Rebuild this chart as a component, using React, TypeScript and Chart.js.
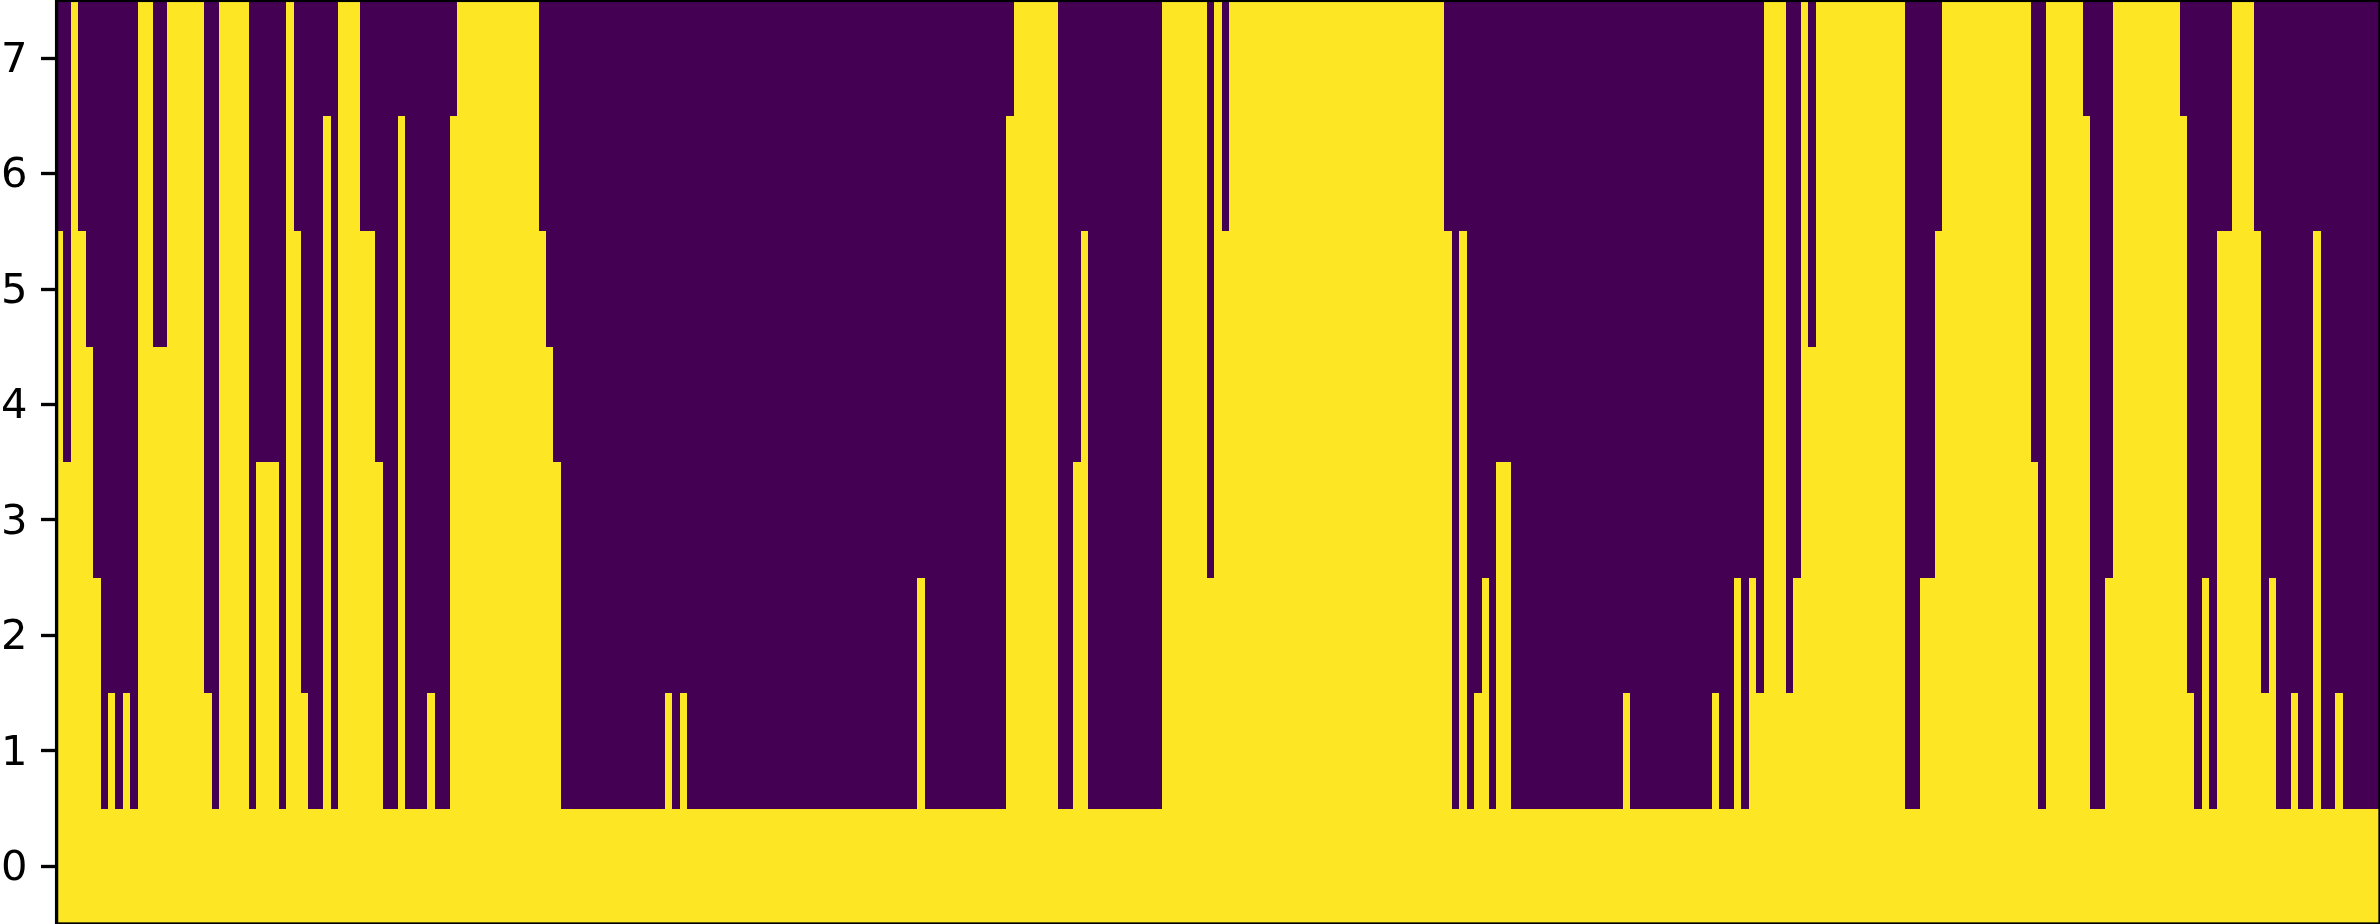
import React, { useEffect, useRef } from "react";
import { Chart, registerables } from "chart.js";

Chart.register(...registerables);

const levels: number[] = [
  5.5, 3.5, 7.5, 5.5, 4.5, 2.5, 0.5, 1.5, 0.5, 1.5, 0.5, 7.5, 7.5, 4.5, 4.5, 7.5, 7.5, 7.5, 7.5, 7.5,
  1.5, 0.5, 7.5, 7.5, 7.5, 7.5, 0.5, 3.5, 3.5, 3.5, 0.5, 7.5, 5.5, 1.5, 0.5, 0.5, 6.5, 0.5, 7.5, 7.5,
  7.5, 5.5, 5.5, 3.5, 0.5, 0.5, 6.5, 0.5, 0.5, 0.5, 1.5, 0.5, 0.5, 6.5, 7.5, 7.5, 7.5, 7.5, 7.5, 7.5,
  7.5, 7.5, 7.5, 7.5, 7.5, 5.5, 4.5, 3.5, 0.5, 0.5, 0.5, 0.5, 0.5, 0.5, 0.5, 0.5, 0.5, 0.5, 0.5, 0.5,
  0.5, 0.5, 1.5, 0.5, 1.5, 0.5, 0.5, 0.5, 0.5, 0.5, 0.5, 0.5, 0.5, 0.5, 0.5, 0.5, 0.5, 0.5, 0.5, 0.5,
  0.5, 0.5, 0.5, 0.5, 0.5, 0.5, 0.5, 0.5, 0.5, 0.5, 0.5, 0.5, 0.5, 0.5, 0.5, 0.5, 2.5, 0.5, 0.5, 0.5,
  0.5, 0.5, 0.5, 0.5, 0.5, 0.5, 0.5, 0.5, 6.5, 7.5, 7.5, 7.5, 7.5, 7.5, 7.5, 0.5, 0.5, 3.5, 5.5, 0.5,
  0.5, 0.5, 0.5, 0.5, 0.5, 0.5, 0.5, 0.5, 0.5, 7.5, 7.5, 7.5, 7.5, 7.5, 7.5, 2.5, 7.5, 5.5, 7.5, 7.5,
  7.5, 7.5, 7.5, 7.5, 7.5, 7.5, 7.5, 7.5, 7.5, 7.5, 7.5, 7.5, 7.5, 7.5, 7.5, 7.5, 7.5, 7.5, 7.5, 7.5,
  7.5, 7.5, 7.5, 7.5, 7.5, 7.5, 7.5, 5.5, 0.5, 5.5, 0.5, 1.5, 2.5, 0.5, 3.5, 3.5, 0.5, 0.5, 0.5, 0.5,
  0.5, 0.5, 0.5, 0.5, 0.5, 0.5, 0.5, 0.5, 0.5, 0.5, 0.5, 1.5, 0.5, 0.5, 0.5, 0.5, 0.5, 0.5, 0.5, 0.5,
  0.5, 0.5, 0.5, 1.5, 0.5, 0.5, 2.5, 0.5, 2.5, 1.5, 7.5, 7.5, 7.5, 1.5, 2.5, 7.5, 4.5, 7.5, 7.5, 7.5,
  7.5, 7.5, 7.5, 7.5, 7.5, 7.5, 7.5, 7.5, 7.5, 0.5, 0.5, 2.5, 2.5, 5.5, 7.5, 7.5, 7.5, 7.5, 7.5, 7.5,
  7.5, 7.5, 7.5, 7.5, 7.5, 7.5, 3.5, 0.5, 7.5, 7.5, 7.5, 7.5, 7.5, 6.5, 0.5, 0.5, 2.5, 7.5, 7.5, 7.5,
  7.5, 7.5, 7.5, 7.5, 7.5, 7.5, 6.5, 1.5, 0.5, 2.5, 0.5, 5.5, 5.5, 7.5, 7.5, 7.5, 5.5, 1.5, 2.5, 0.5,
  0.5, 1.5, 0.5, 0.5, 5.5, 0.5, 0.5, 1.5, 0.5, 0.5, 0.5, 0.5, 0.5,
];
const columns: string[] = levels.map((_, i) => String(i));
const yTicks: number[] = [0, 1, 2, 3, 4, 5, 6, 7];
const yMin = -0.5;
const yMax = 7.5;
const YELLOW = "#fde725";
const PURPLE = "#440154";

const snapPlugin = {
  id: "snap",
  afterDatasetsUpdate(chart: any) {
    chart.data.datasets.forEach((_: any, i: number) => {
      chart.getDatasetMeta(i).data.forEach((el: any) => {
        const l = Math.round(el.x - el.width / 2);
        const r = Math.round(el.x + el.width / 2);
        el.x = (l + r) / 2;
        el.width = r - l;
        el.y = Math.round(el.y);
        el.base = Math.round(el.base);
      });
    });
  },
};

const framePlugin = {
  id: "frame",
  afterDraw(chart: any) {
    const { ctx, chartArea: a } = chart;
    ctx.save();
    ctx.strokeStyle = "#000";
    ctx.lineWidth = 3.33;
    ctx.strokeRect(a.left + 0.6, a.top, a.right - a.left - 0.6, a.bottom - a.top);
    ctx.restore();
  },
};

export default function App() {
  const ref = useRef<HTMLCanvasElement>(null);
  useEffect(() => {
    const chart = new Chart(ref.current!, {
      type: "bar",
      data: {
        labels: columns,
        datasets: [
          {
            data: levels.map((v) => [yMin, v]),
            backgroundColor: YELLOW,
            borderWidth: 0,
            grouped: false,
            barPercentage: 1,
            categoryPercentage: 1,
            inflateAmount: 0,
          },
          {
            data: levels.map((v) => [v, yMax]),
            backgroundColor: PURPLE,
            borderWidth: 0,
            grouped: false,
            barPercentage: 1,
            categoryPercentage: 1,
            inflateAmount: 0,
          },
        ] as any,
      },
      options: {
        animation: false,
        responsive: false,
        devicePixelRatio: 1,
        layout: { padding: { left: 0, right: -1.2, top: 0.4, bottom: -0.6 } },
        plugins: { legend: { display: false }, tooltip: { enabled: false } },
        scales: {
          x: { display: false, grid: { display: false } },
          y: {
            min: yMin,
            max: yMax,
            afterFit(scale: any) {
              scale.width = 56;
              scale.paddingTop = 0;
              scale.paddingBottom = 0;
            },
            afterBuildTicks(scale: any) {
              scale.ticks = yTicks.map((value) => ({ value }));
            },
            border: { display: false },
            grid: {
              drawOnChartArea: false,
              drawTicks: true,
              tickLength: 15,
              tickWidth: 3.33,
              tickColor: "#000",
            },
            ticks: {
              padding: 13.5,
              labelOffset: 3,
              color: "#000",
              font: { family: "DejaVu Sans", size: 41.67 },
              autoSkip: false,
              maxRotation: 0,
            },
          },
        },
      },
      plugins: [snapPlugin, framePlugin],
    });
    return () => chart.destroy();
  }, []);
  return (
    <div style={{ position: "fixed", left: 0, top: 0, background: "#fff" }}>
      <canvas ref={ref} width={2380} height={924} style={{ display: "block" }} />
    </div>
  );
}
